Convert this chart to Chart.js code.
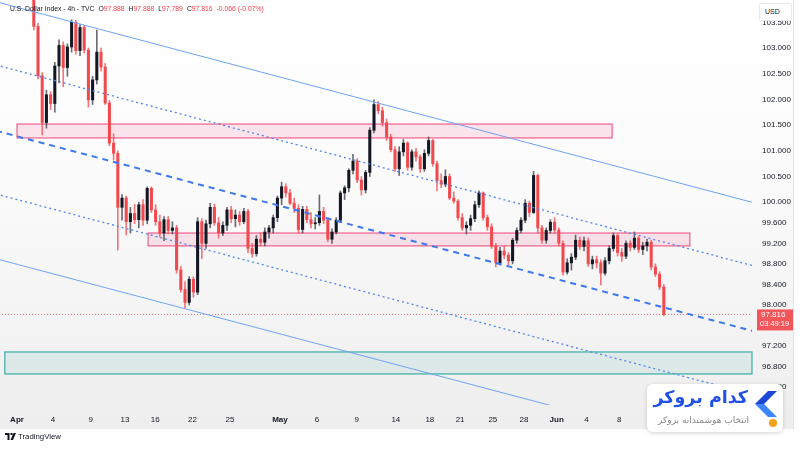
<!DOCTYPE html>
<html>
<head>
<meta charset="utf-8">
<script src="https://cdn.jsdelivr.net/npm/chart.js@4.4.1/dist/chart.umd.min.js"></script>
<style>
html,body{margin:0;padding:0;}
body{width:800px;height:450px;position:relative;overflow:hidden;background:#fff;font-family:"Liberation Sans",Arial,sans-serif;}
#bg{position:absolute;left:0;top:0;width:794px;height:429px;background:linear-gradient(to bottom,#ffffff 0px,#fbfbfb 180px,#efefef 405px,#eeeeee 429px);}
#edge{position:absolute;left:793px;top:0;width:1px;height:429px;background:#e3e3e3;}
#c{position:absolute;left:0;top:0;}
#hdr{position:absolute;left:10px;top:5px;font-size:6.8px;color:#131722;white-space:nowrap;}
#hdr .r{color:#f0434f;}
#hdr .g{margin-left:4px;}
#usd{position:absolute;left:759px;top:3px;width:33px;height:18px;background:#fff;border:1px solid #e8e8e8;border-radius:2px;font-size:7px;color:#131722;line-height:15px;box-sizing:border-box;padding-left:5px;}
#tv{position:absolute;left:5px;top:432px;font-size:7.8px;color:#131722;white-space:nowrap;}
#tv svg{vertical-align:-1px;margin-right:2px;}
#wm{position:absolute;left:647px;top:384px;width:136px;height:48px;background:#fff;border-radius:6px;box-shadow:0 1px 4px rgba(0,0,0,0.18);}
#wm .t{position:absolute;right:35px;top:3px;font-family:"DejaVu Sans",sans-serif;font-weight:bold;font-size:17.5px;color:#2150e6;direction:rtl;white-space:nowrap;}
#wm .s{position:absolute;right:34px;top:31px;font-family:"DejaVu Sans",sans-serif;font-size:9px;color:#8a8a8a;direction:rtl;white-space:nowrap;}
#wm svg{position:absolute;left:108px;top:7px;}
#wm .dot{position:absolute;left:122px;top:35px;width:8px;height:8px;border-radius:50%;background:#f5a21b;}
</style>
</head>
<body>
<div id="bg"></div>
<div id="edge"></div>
<canvas id="c" width="800" height="450"></canvas>
<div id="hdr">U.S. Dollar Index - 4h - TVC<span class="g">O</span><span class="r">97.888</span><span class="g">H</span><span class="r">97.888</span><span class="g">L</span><span class="r">97.789</span><span class="g">C</span><span class="r">97.816</span><span class="r g">-0.066 (-0.07%)</span></div>
<div id="usd">USD</div>
<div id="tv"><svg width="11" height="7" viewBox="0 0 22 14"><path d="M0 0h9v14H5V4H0z M11 0h4v4h-4z M17 0h5L16 14h-5z" fill="#131722"/></svg>TradingView</div>
<div id="wm">
  <div class="t">کدام بروکر</div>
  <div class="s">انتخاب هوشمندانه بروکر</div>
  <svg width="22" height="26" viewBox="0 0 22 26"><polygon points="13,0 22,0 9,13 0,13" fill="#1f47d6"/><polygon points="0,13 9,13 22,26 13,26" fill="#3d86fb"/></svg>
  <div class="dot"></div>
</div>
<script>
// ---- candle data (4h chart, aggregated reading) ----
const opens = [104.22,104.18,104.25,104.16,104.08,103.42,102.46,101.55,102.09,101.92,102.65,103.05,102.62,103.02,103.50,102.95,103.40,102.96,101.99,102.38,102.92,102.63,101.93,101.15,100.95,99.90,100.08,99.62,99.78,99.66,99.95,99.65,100.27,99.85,99.62,99.40,99.66,99.45,99.50,98.68,98.30,98.05,98.50,98.25,99.62,99.20,99.58,99.90,99.60,99.40,99.55,99.85,99.68,99.75,99.62,99.82,99.10,99.00,99.28,99.22,99.42,99.50,99.70,100.08,100.30,100.18,99.98,99.88,99.47,99.86,99.66,99.58,99.60,99.82,99.65,99.28,99.42,99.65,100.18,100.28,100.62,100.80,100.43,100.24,100.58,101.40,101.90,101.78,101.55,101.27,101.02,100.65,100.98,101.15,100.68,100.98,100.88,100.65,100.95,101.20,100.75,100.42,100.35,100.50,100.08,100.02,99.70,99.50,99.55,99.68,99.95,100.18,99.70,99.52,99.14,98.82,99.05,98.97,98.86,99.26,99.45,99.65,99.98,99.80,100.52,99.50,99.26,99.45,99.61,99.46,99.20,98.64,98.82,98.93,99.26,99.14,99.25,98.80,98.88,98.82,98.62,98.86,99.10,99.35,99.02,98.95,99.20,99.12,99.30,99.08,99.15,99.22,98.74,98.60,98.35];
const highs = [104.38,104.30,104.40,104.28,104.20,103.48,102.52,102.18,102.15,102.72,103.16,103.12,103.08,103.55,103.54,103.45,103.44,103.00,102.45,103.35,103.00,102.70,101.98,101.33,101.00,100.15,100.12,99.90,99.96,100.00,100.05,100.30,100.30,99.95,99.75,99.72,99.72,99.62,99.55,98.75,98.45,98.55,98.55,99.70,99.68,99.65,99.98,99.96,99.70,99.62,99.90,99.92,99.85,99.82,99.88,99.86,99.20,99.35,99.40,99.50,99.55,99.75,100.12,100.39,100.36,100.25,100.08,99.95,99.92,99.92,99.80,99.70,100.14,99.90,99.70,99.48,99.70,100.22,100.32,100.65,100.93,100.85,100.50,100.62,101.45,101.99,101.96,101.85,101.62,101.32,101.08,101.08,101.22,101.18,101.02,101.05,100.92,101.02,101.27,101.22,100.80,100.55,100.63,100.55,100.20,100.05,99.78,99.62,99.75,100.02,100.22,100.20,99.75,99.58,99.20,99.12,99.15,99.02,99.30,99.50,99.70,100.05,100.02,100.60,100.55,99.55,99.50,99.66,99.70,99.50,99.25,98.90,99.00,99.36,99.32,99.32,99.30,98.95,98.95,98.88,98.92,99.15,99.40,99.38,99.10,99.25,99.25,99.42,99.34,99.22,99.28,99.26,98.80,98.65,98.40];
const lows = [104.10,104.05,104.12,103.98,103.35,102.40,101.31,101.44,101.80,101.75,102.32,102.25,102.45,102.92,102.88,102.85,102.90,101.85,101.90,102.30,102.55,101.90,101.10,100.82,99.07,99.65,99.36,99.40,99.58,99.50,99.55,99.58,99.80,99.55,99.32,99.25,99.38,99.38,98.62,98.25,97.94,98.00,98.15,98.20,98.90,99.10,99.50,99.55,99.30,99.35,99.45,99.60,99.52,99.55,99.58,99.02,98.93,98.95,99.15,99.15,99.30,99.40,99.62,99.95,100.10,99.95,99.80,99.40,99.40,99.60,99.50,99.48,99.55,99.58,99.23,99.20,99.38,99.60,100.05,100.20,100.55,100.38,100.14,100.18,100.50,101.35,101.72,101.48,101.20,100.98,100.60,100.52,100.90,100.62,100.62,100.80,100.58,100.60,100.90,100.70,100.22,100.28,100.30,100.05,99.98,99.65,99.45,99.38,99.45,99.62,99.90,99.65,99.45,99.10,98.74,98.78,98.90,98.78,98.80,99.20,99.40,99.60,99.72,99.78,99.40,99.20,99.20,99.40,99.40,99.15,98.58,98.60,98.68,98.88,99.08,99.05,98.75,98.70,98.72,98.39,98.58,98.80,99.05,98.95,98.85,98.90,99.05,99.08,99.02,98.98,99.05,98.68,98.55,98.30,97.789];
const closes = [104.18,104.25,104.16,104.08,103.42,102.46,101.55,102.09,101.92,102.65,103.05,102.62,103.02,103.50,102.95,103.40,102.96,101.99,102.38,102.92,102.63,101.93,101.15,100.95,99.90,100.08,99.62,99.78,99.66,99.95,99.65,100.27,99.85,99.62,99.40,99.66,99.45,99.50,98.68,98.30,98.05,98.50,98.25,99.62,99.20,99.58,99.90,99.60,99.40,99.55,99.85,99.68,99.75,99.62,99.82,99.10,99.00,99.28,99.22,99.42,99.50,99.70,100.08,100.30,100.18,99.98,99.88,99.47,99.86,99.66,99.58,99.60,99.82,99.65,99.28,99.42,99.65,100.18,100.28,100.62,100.80,100.43,100.24,100.58,101.40,101.90,101.78,101.55,101.27,101.02,100.65,100.98,101.15,100.68,100.98,100.88,100.65,100.95,101.20,100.75,100.42,100.35,100.50,100.08,100.02,99.70,99.50,99.55,99.68,99.95,100.18,99.70,99.52,99.14,98.82,99.05,98.97,98.86,99.26,99.45,99.65,99.98,99.80,100.52,99.50,99.26,99.45,99.61,99.46,99.20,98.64,98.82,98.93,99.26,99.14,99.25,98.80,98.88,98.82,98.62,98.86,99.10,99.35,99.02,98.95,99.20,99.12,99.30,99.08,99.15,99.22,98.74,98.60,98.35,97.816];

// ---- time axis (candle index) ----
const xTickPos    = [0, 8.57, 17.55, 25.7, 32.9, 41.8, 50.7, 62.6, 71.4, 80.9, 90.2, 98.3, 105.5, 113.3, 120.7, 128.5, 135.6, 143.4];
const xTickLabels = ['Apr','4','9','13','16','22','25','May','6','9','14','18','21','25','28','Jun','4','8'];
const monthLabels = ['Apr','May','Jun'];

// ---- price axis ----
const yTicks = [103.5,103.0,102.5,102.0,101.5,101.0,100.5,100.0,99.6,99.2,98.8,98.4,98.0,97.2,96.8,96.4];

// ---- drawings: channel lines [index, price] endpoints ----
const upperSolid  = [[-5,103.90],[180,99.89]];
const upperDotted = [[-5,102.67],[180,98.66]];
const midDashed   = [[-5,101.39],[180,97.39]];
const lowerDotted = [[-5,100.16],[180,96.15]];
const lowerSolid  = [[-5,98.90],[180,94.90]];

// ---- drawings: zones [fromIndex, toIndex, topPrice, bottomPrice] ----
const resistZone  = [0, 141.7, 101.52, 101.25];
const pivotZone   = [31.2, 160.2, 99.40, 99.15];
const supportZone = [-2.9, 176, 97.086, 96.658];

const lastPrice = closes[closes.length - 1];
const lastTimer = '03:49:19';

const UP = '#131722', DOWN = '#f04a4f';
const idx = closes.map((_, i) => i);
const isUp = i => closes[i] >= opens[i];

const toPts = arr => arr.map(p => ({x: p[0], y: p[1]}));

const zonePlugin = {
  id: 'zones',
  beforeDatasetsDraw(chart) {
    const {ctx, chartArea: a, scales: {x, y}} = chart;
    const draw = (z, fill, stroke) => {
      const x0 = Math.max(a.left, x.getPixelForValue(z[0]));
      const x1 = Math.min(a.right, x.getPixelForValue(z[1]));
      const y0 = y.getPixelForValue(z[2]);
      const y1 = y.getPixelForValue(z[3]);
      ctx.save();
      ctx.fillStyle = fill;
      ctx.fillRect(x0, y0, x1 - x0, y1 - y0);
      ctx.strokeStyle = stroke;
      ctx.lineWidth = 1.2;
      ctx.strokeRect(x0, y0, x1 - x0, y1 - y0);
      ctx.restore();
    };
    draw(resistZone, 'rgba(242,90,140,0.15)', 'rgba(238,80,130,0.9)');
    draw(pivotZone, 'rgba(242,90,140,0.15)', 'rgba(238,80,130,0.9)');
    draw(supportZone, 'rgba(38,166,154,0.10)', 'rgba(38,166,154,0.9)');
  }
};

const priceTagPlugin = {
  id: 'priceTag',
  afterDraw(chart) {
    const {ctx, chartArea: a, scales: {y}} = chart;
    const py = y.getPixelForValue(lastPrice);
    ctx.save();
    ctx.fillStyle = '#f2555a';
    ctx.fillRect(a.right + 5, py - 5, 36, 21);
    ctx.fillStyle = '#ffffff';
    ctx.textBaseline = 'middle';
    ctx.textAlign = 'left';
    ctx.font = '8px "Liberation Sans", Arial, sans-serif';
    ctx.fillText(lastPrice.toFixed(3), a.right + 9, py + 0.5);
    ctx.font = '7.5px "Liberation Sans", Arial, sans-serif';
    ctx.fillText(lastTimer, a.right + 8, py + 9.5);
    ctx.restore();
  }
};

const lineDs = (pts, color, width, dash, order) => ({
  type: 'line', data: toPts(pts), borderColor: color, borderWidth: width,
  borderDash: dash, pointRadius: 0, fill: false, order: order, tension: 0, clip: 0
});

const noPad = s => { s.paddingTop = 0; s.paddingBottom = 0; s.paddingLeft = 0; s.paddingRight = 0; };

new Chart(document.getElementById('c'), {
  type: 'bar',
  data: {
    datasets: [
      lineDs(upperSolid, '#6fa3f3', 1, [], 0),
      lineDs(upperDotted, '#4f86ee', 1.3, [2, 3], 0),
      lineDs(midDashed, '#3c78ee', 2, [6, 5], 0),
      lineDs(lowerDotted, '#4f86ee', 1.3, [2, 3], 0),
      lineDs(lowerSolid, '#6fa3f3', 1, [], 0),
      lineDs([[-5, lastPrice], [180, lastPrice]], 'rgba(240,74,79,0.7)', 1, [1, 2], 0),
      {
        label: 'body',
        data: idx.map(i => ({x: i, y: [opens[i], closes[i]]})),
        backgroundColor: c => isUp(c.dataIndex) ? UP : DOWN,
        barThickness: 2.4, minBarLength: 1, grouped: false, order: 1, clip: 0, borderWidth: 0
      },
      {
        label: 'wick',
        data: idx.map(i => ({x: i, y: [lows[i], highs[i]]})),
        backgroundColor: c => isUp(c.dataIndex) ? 'rgba(70,70,80,0.8)' : 'rgba(240,74,79,0.75)',
        barThickness: 1, grouped: false, order: 2, clip: 0, borderWidth: 0
      }
    ]
  },
  options: {
    responsive: false,
    animation: false,
    devicePixelRatio: 1,
    layout: {autoPadding: false, padding: {top: 0, left: 0, right: 0, bottom: 20}},
    plugins: {legend: {display: false}, tooltip: {enabled: false}},
    scales: {
      x: {
        type: 'linear', min: -4.05, max: 175, offset: false,
        grid: {display: false, drawTicks: false, offset: false}, border: {display: false},
        afterFit: s => { s.height = 25; noPad(s); },
        afterBuildTicks: s => { s.ticks = xTickPos.map(v => ({value: v})); },
        ticks: {
          autoSkip: false, maxRotation: 0, padding: 10, color: '#131722',
          font: c => ({family: '"Liberation Sans", Arial, sans-serif', size: 8, weight: monthLabels.includes(xTickLabels[c.index]) ? 'bold' : 'normal'}),
          callback: (v, i) => xTickLabels[i]
        }
      },
      y: {
        position: 'right', min: 96.054, max: 103.934,
        grid: {display: false, drawTicks: false}, border: {display: false},
        afterFit: s => { s.width = 48; noPad(s); },
        afterBuildTicks: s => { s.ticks = yTicks.map(v => ({value: v})); },
        ticks: {
          padding: 10, color: '#131722',
          font: {family: '"Liberation Sans", Arial, sans-serif', size: 8},
          callback: v => Number(v).toFixed(3)
        }
      }
    }
  },
  plugins: [zonePlugin, priceTagPlugin]
});
</script>
</body>
</html>
